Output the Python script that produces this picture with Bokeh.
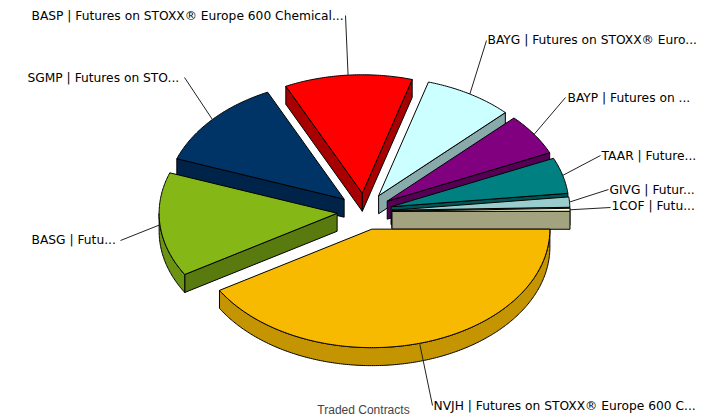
import math
from bokeh.plotting import figure
from bokeh.models import ColumnDataSource, Range1d
from bokeh.core.properties import value
from bokeh.embed import file_html
from bokeh.resources import INLINE

# ---- data ----
labels = [
    "NVJH | Futures on STOXX® Europe 600 C...",
    "BASG | Futu...",
    "SGMP | Futures on STO...",
    "BASP | Futures on STOXX® Europe 600 Chemical...",
    "BAYG | Futures on STOXX® Euro...",
    "BAYP | Futures on ...",
    "TAAR | Future...",
    "GIVG | Futur...",
    "1COF | Futu...",
]
shares = [41.4, 14.2, 12.4, 11.6, 8.1, 5.7, 4.9, 1.4, 0.4]
colors = ["#F7BA00", "#85B717", "#003366", "#FF0000", "#CCFFFF",
          "#800080", "#008080", "#99CCCC", "#FFFFCC"]
side_colors = ["#A37B00", "#587A0F", "#00234A", "#A80000", "#88AAAA",
               "#550055", "#005555", "#668888", "#A3A380"]
rim_colors = ["#C49500", "#6C9413", "#00234A", "#A80000", "#88AAAA",
              "#550055", "#005555", "#668888", "#A3A380"]
title = "Traded Contracts"

# ---- layout ----
CX, CY, A, B, EXPLODE, DEPTH = 364.0, 211.0, 178.0, 118.5, 27.5, 18.0
DRAW_ORDER = [3, 2, 4, 5, 6, 7, 8, 1, 0]
# label left edge, label middle y, leader elbow x, leader elbow y
LABEL_POS = [
    (433, 405, 432, 405),
    (31, 239, 120, 240),
    (27, 77, 184, 77),
    (31, 15, 345, 15),
    (487, 39, 486, 40),
    (567, 97, 565, 97),
    (601, 155, 600, 155),
    (609, 189, 608, 189),
    (611, 205, 610, 207),
]


def arc(cx, cy, t1, t2, dy=0.0):
    n = max(2, int(abs(t2 - t1) * 1.5) + 1)
    ts = [math.radians(t1 + (t2 - t1) * i / (n - 1)) for i in range(n)]
    return [cx + A * math.cos(t) for t in ts], [cy + dy + B * math.sin(t) for t in ts]


total = sum(shares)
edges = [0.0]
for s in shares:
    edges.append(edges[-1] + 360.0 * s / total)

p = figure(width=723, height=417, output_backend="svg", toolbar_location=None,
           x_range=Range1d(0, 723), y_range=Range1d(417, 0),
           x_axis_location=None, y_axis_location=None,
           min_border=0, outline_line_color=None, background_fill_color="white")
p.grid.visible = False

apexes = {}
for i in DRAW_ORDER:
    t1, t2 = edges[i], edges[i + 1]
    mid = math.radians((t1 + t2) / 2)
    cx = CX + EXPLODE * math.cos(mid)
    cy = CY + EXPLODE * B / A * math.sin(mid)
    apexes[i] = (cx, cy, (t1 + t2) / 2)
    xs, ys = [], []
    # inner walls that face the viewer
    if math.cos(math.radians(t1)) < 0:
        x1, y1 = arc(cx, cy, t1, t1 + 0.001)
        xs.append([cx, x1[0], x1[0], cx])
        ys.append([cy, y1[0], y1[0] + DEPTH, cy + DEPTH])
    if math.cos(math.radians(t2)) > 0:
        x2, y2 = arc(cx, cy, t2, t2 + 0.001)
        xs.append([cx, x2[0], x2[0], cx])
        ys.append([cy, y2[0], y2[0] + DEPTH, cy + DEPTH])
    if xs:
        p.patches(xs="xs", ys="ys", source=ColumnDataSource(dict(xs=xs, ys=ys)),
                  fill_color=side_colors[i], line_color="black", line_width=1)
    # outer rim on the front half
    r1, r2 = max(t1, 0.0), min(t2, 180.0)
    if r2 > r1:
        ax, ay = arc(cx, cy, r1, r2)
        bx, by = arc(cx, cy, r1, r2, DEPTH)
        p.patch(ax + bx[::-1], ay + by[::-1], fill_color=rim_colors[i],
                line_color="black", line_width=1)
    ax, ay = arc(cx, cy, t1, t2)
    p.patch([cx] + ax, [cy] + ay, fill_color=colors[i], line_color="black", line_width=1)

for i, (lab, pos) in enumerate(zip(labels, LABEL_POS)):
    cx, cy, m = apexes[i]
    rx, ry = arc(cx, cy, m, m + 0.001)
    p.line([rx[0], pos[2]], [ry[0], pos[3]], line_color="#222222", line_width=1)
    p.text([pos[0]], [pos[1]], text=[lab], text_font=value("DejaVu Sans"),
           text_font_size="12.25px", text_color="black",
           text_baseline="middle", text_align="left")

p.text([363], [409], text=[title], text_font=value("Liberation Sans"),
       text_font_size="12px", text_color="#444444",
       text_baseline="middle", text_align="center")

open("out.html", "w").write(file_html(p, INLINE))
